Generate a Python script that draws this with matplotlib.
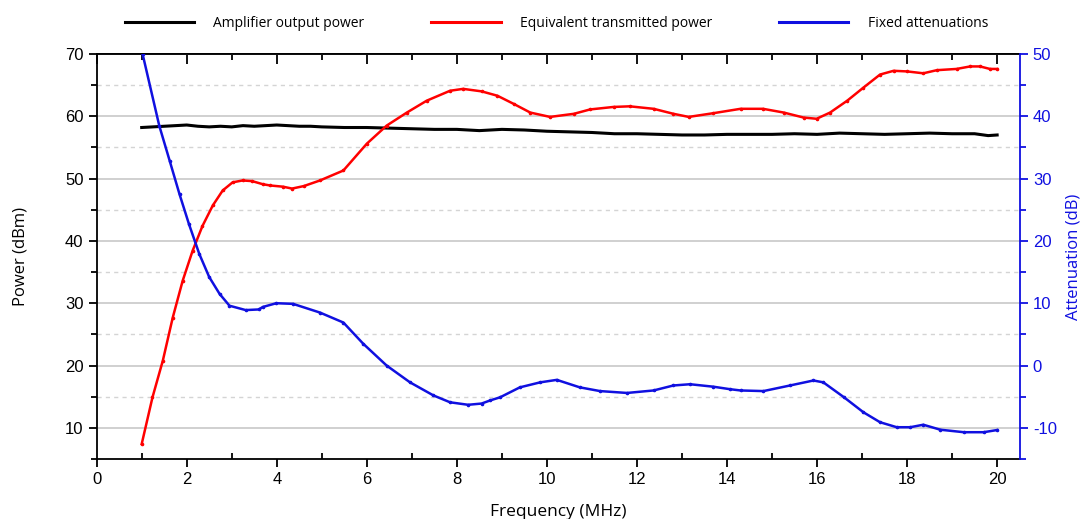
import numpy as np
import matplotlib.pyplot as plt
from matplotlib.ticker import MultipleLocator

plt.rcParams['axes.unicode_minus'] = False

# Amplifier output power (dBm)
amp_freq = [1.0, 1.25, 1.5, 1.75, 2.0, 2.25, 2.5, 2.75, 3.0, 3.25, 3.5, 3.75, 4.0, 4.25, 4.5, 4.75,
            5.0, 5.5, 6.0, 6.5, 7.0, 7.5, 8.0, 8.5, 9.0, 9.5, 10.0, 10.5, 11.0, 11.5, 12.0, 12.5,
            13.0, 13.5, 14.0, 14.5, 15.0, 15.5, 16.0, 16.5, 17.0, 17.5, 18.0, 18.5, 19.0, 19.5,
            19.8, 20.0]
amp_power = [58.2, 58.3, 58.4, 58.5, 58.6, 58.4, 58.3, 58.4, 58.3, 58.5, 58.4, 58.5, 58.6, 58.5, 58.4, 58.4,
             58.3, 58.2, 58.2, 58.1, 58.0, 57.9, 57.9, 57.7, 57.9, 57.8, 57.6, 57.5, 57.4, 57.2, 57.2, 57.1,
             57.0, 57.0, 57.1, 57.1, 57.1, 57.2, 57.1, 57.3, 57.2, 57.1, 57.2, 57.3, 57.2, 57.2,
             56.9, 57.0]

# Equivalent transmitted power (dBm)
tx_freq = [1.0, 1.24, 1.47, 1.69, 1.91, 2.13, 2.35, 2.58, 2.80, 3.02, 3.24, 3.45, 3.69, 3.85,
           4.14, 4.34, 4.6, 4.96, 5.48, 6.0, 6.44, 6.89, 7.33, 7.85, 8.14, 8.55, 8.9, 9.26,
           9.63, 10.07, 10.6, 10.96, 11.48, 11.84, 12.37, 12.81, 13.15, 13.7, 14.3, 14.8,
           15.26, 15.7, 15.99, 16.29, 16.67, 17.03, 17.4, 17.7, 18.0, 18.36, 18.66, 19.1,
           19.4, 19.62, 19.84, 20.0]
tx_power = [7.4, 14.9, 20.8, 27.7, 33.6, 38.4, 42.4, 45.7, 48.1, 49.4, 49.7, 49.6, 49.1, 48.9,
            48.7, 48.4, 48.8, 49.7, 51.3, 55.6, 58.5, 60.6, 62.5, 64.1, 64.4, 64.0, 63.3, 62.0,
            60.6, 59.9, 60.4, 61.1, 61.5, 61.6, 61.2, 60.4, 59.9, 60.5, 61.2, 61.2,
            60.6, 59.8, 59.6, 60.6, 62.5, 64.6, 66.7, 67.3, 67.2, 66.9, 67.4, 67.6,
            68.0, 68.0, 67.6, 67.6]

# Fixed attenuations (dB)
att_freq = [1.02, 1.39, 1.62, 1.84, 2.05, 2.28, 2.5, 2.73, 2.95, 3.31, 3.6, 3.69, 3.99, 4.36,
            4.96, 5.48, 5.92, 6.44, 6.96, 7.48, 7.85, 8.25, 8.55, 8.74, 8.96, 9.4, 9.85, 10.22,
            10.73, 11.18, 11.78, 12.37, 12.81, 13.18, 13.7, 14.07, 14.3, 14.81, 15.4, 15.92,
            16.14, 16.6, 17.03, 17.4, 17.77, 18.07, 18.36, 18.74, 19.26, 19.7, 20.0]
att_db = [50.0, 38.5, 32.9, 27.5, 22.7, 17.9, 14.2, 11.5, 9.6, 8.9, 9.0, 9.4, 10.0, 9.9,
          8.5, 6.9, 3.5, 0.0, -2.7, -4.8, -5.9, -6.3, -6.1, -5.6, -5.1, -3.5, -2.7, -2.3,
          -3.5, -4.1, -4.4, -4.0, -3.2, -3.0, -3.4, -3.8, -4.0, -4.1, -3.2, -2.4,
          -2.7, -5.1, -7.5, -9.1, -9.9, -9.9, -9.5, -10.3, -10.7, -10.7, -10.35]

BLUE = '#1010e0'

fig = plt.figure(figsize=(10.91, 5.19), dpi=100)
ax = fig.add_axes([0.0886, 0.1156, 0.846, 0.7804])
ax2 = ax.twinx()

l1, = ax.plot(amp_freq, amp_power, color='black', lw=2.2)
l2, = ax.plot(tx_freq, tx_power, color='#ff0000', lw=1.8, marker='o', ms=1.6)
l3, = ax2.plot(att_freq, att_db, color=BLUE, lw=1.8, marker='o', ms=1.6)

ax.set_xlim(0, 20.5)
ax.set_ylim(5, 70)
ax2.set_ylim(-15, 50)

ax.xaxis.set_major_locator(MultipleLocator(2))
ax.xaxis.set_minor_locator(MultipleLocator(1))
ax.yaxis.set_major_locator(MultipleLocator(10))
ax.yaxis.set_minor_locator(MultipleLocator(5))
ax2.yaxis.set_major_locator(MultipleLocator(10))
ax2.yaxis.set_minor_locator(MultipleLocator(5))

ax.grid(axis='y', which='major', color='#c8c8c8', lw=1.2)
ax.grid(axis='y', which='minor', color='#d4d4d4', lw=1.0, ls=(0, (3, 3)))
ax.set_axisbelow(True)

tick_font = 'Liberation Sans'
ax.tick_params(axis='x', which='major', direction='out', length=6, width=1.3, labelsize=12, top=False)
ax.tick_params(axis='x', which='minor', direction='in', length=4, width=1.3, top=False)
ax.tick_params(axis='y', which='both', direction='out', width=1.3, labelsize=12)
ax.tick_params(axis='y', which='major', length=6)
ax.tick_params(axis='y', which='minor', length=4)
ax2.tick_params(axis='y', which='both', direction='out', width=1.3, colors=BLUE, labelsize=12)
ax2.tick_params(axis='y', which='major', length=6)
ax2.tick_params(axis='y', which='minor', length=4)

# top ticks pointing inward
sec = ax.secondary_xaxis('top')
sec.xaxis.set_major_locator(MultipleLocator(2))
sec.xaxis.set_minor_locator(MultipleLocator(1))
sec.tick_params(which='major', direction='in', length=7, width=1.3, labeltop=False)
sec.tick_params(which='minor', direction='in', length=4, width=1.3)
sec.spines['top'].set_linewidth(1.3)

for lab in ax.get_xticklabels() + ax.get_yticklabels() + ax2.get_yticklabels():
    lab.set_fontfamily(tick_font)

for s in ['left', 'bottom', 'top']:
    ax.spines[s].set_linewidth(1.3)
ax.spines['right'].set_visible(False)
ax2.spines['right'].set_color(BLUE)
ax2.spines['right'].set_linewidth(1.3)
ax2.spines['top'].set_visible(False)
ax2.spines['left'].set_visible(False)
ax2.spines['bottom'].set_visible(False)

ax.set_xlabel('Frequency (MHz)', fontsize=12.5, family='Open Sans', labelpad=12)
ax.set_ylabel('Power (dBm)', fontsize=12, family='Open Sans', labelpad=26)
ax2.set_ylabel('Attenuation (dB)', fontsize=12, family='Open Sans', color=BLUE, labelpad=6)

fig.legend([l1, l2, l3], ['Amplifier output power', 'Equivalent transmitted power', 'Fixed attenuations'],
           loc='center', bbox_to_anchor=(0.51, 0.955), ncol=3, frameon=False,
           handlelength=5, handletextpad=1.4, columnspacing=4.8,
           prop={'family': 'Open Sans', 'size': 10})
for h in fig.legends[0].legend_handles:
    h.set_marker('')
    h.set_linewidth(2.2)

fig.savefig('out.png', dpi=100)
